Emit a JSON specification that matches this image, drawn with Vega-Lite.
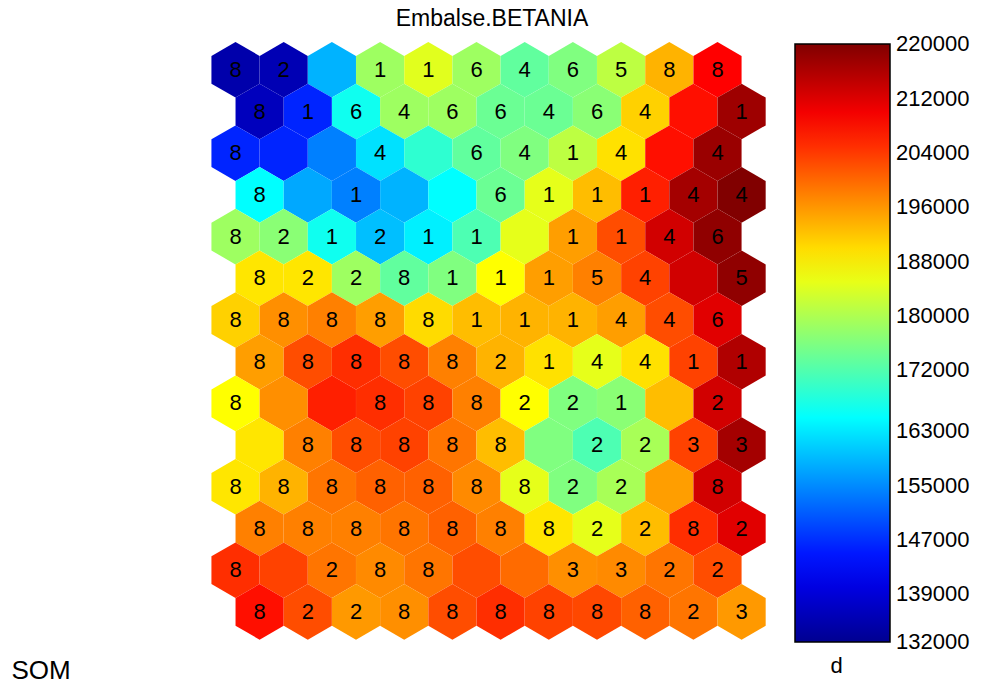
{
  "$schema": "https://vega.github.io/schema/vega-lite/v6.json",
  "width": 984,
  "height": 684,
  "autosize": {"type": "none"},
  "padding": 0,
  "background": "white",
  "config": {"view": {"stroke": null}, "font": "Liberation Sans"},
  "title": {"text": "Embalse.BETANIA", "fontSize": 23, "fontWeight": "normal", "font": "Liberation Sans", "color": "black", "anchor": "middle", "frame": "group", "offset": -26, "dy": 23, "baseline": "alphabetic"},
  "data": {"values": [
    {"x":0,"row":0,"d":134600,"lab":"8"},{"x":1,"row":0,"d":135500,"lab":"2"},{"x":2,"row":0,"d":158400,"lab":""},{"x":3,"row":0,"d":178600,"lab":"1"},{"x":4,"row":0,"d":184400,"lab":"1"},{"x":5,"row":0,"d":178600,"lab":"6"},{"x":6,"row":0,"d":173400,"lab":"4"},{"x":7,"row":0,"d":176000,"lab":"6"},{"x":8,"row":0,"d":181300,"lab":"5"},{"x":9,"row":0,"d":193600,"lab":"8"},{"x":10,"row":0,"d":209000,"lab":"8"},
    {"x":0.5,"row":1,"d":136400,"lab":"8"},{"x":1.5,"row":1,"d":146100,"lab":"1"},{"x":2.5,"row":1,"d":166300,"lab":"6"},{"x":3.5,"row":1,"d":178600,"lab":"4"},{"x":4.5,"row":1,"d":178600,"lab":"6"},{"x":5.5,"row":1,"d":174200,"lab":"6"},{"x":6.5,"row":1,"d":174200,"lab":"4"},{"x":7.5,"row":1,"d":176900,"lab":"6"},{"x":8.5,"row":1,"d":191000,"lab":"4"},{"x":9.5,"row":1,"d":207700,"lab":""},{"x":10.5,"row":1,"d":217400,"lab":"1"},
    {"x":0,"row":2,"d":146100,"lab":"8"},{"x":1,"row":2,"d":146100,"lab":""},{"x":2,"row":2,"d":154000,"lab":""},{"x":3,"row":2,"d":162400,"lab":"4"},{"x":4,"row":2,"d":169000,"lab":""},{"x":5,"row":2,"d":173400,"lab":"6"},{"x":6,"row":2,"d":176000,"lab":"4"},{"x":7,"row":2,"d":181300,"lab":"1"},{"x":8,"row":2,"d":189600,"lab":"4"},{"x":9,"row":2,"d":207700,"lab":""},{"x":10,"row":2,"d":217800,"lab":"4"},
    {"x":0.5,"row":3,"d":165000,"lab":"8"},{"x":1.5,"row":3,"d":157500,"lab":""},{"x":2.5,"row":3,"d":154000,"lab":"1"},{"x":3.5,"row":3,"d":158400,"lab":""},{"x":4.5,"row":3,"d":165000,"lab":""},{"x":5.5,"row":3,"d":174200,"lab":"6"},{"x":6.5,"row":3,"d":184800,"lab":"1"},{"x":7.5,"row":3,"d":192700,"lab":"1"},{"x":8.5,"row":3,"d":206300,"lab":"1"},{"x":9.5,"row":3,"d":216900,"lab":"4"},{"x":10.5,"row":3,"d":220000,"lab":"4"},
    {"x":0,"row":4,"d":178600,"lab":"8"},{"x":1,"row":4,"d":176900,"lab":"2"},{"x":2,"row":4,"d":166300,"lab":"1"},{"x":3,"row":4,"d":159500,"lab":"2"},{"x":4,"row":4,"d":163700,"lab":"1"},{"x":5,"row":4,"d":171600,"lab":"1"},{"x":6,"row":4,"d":184800,"lab":""},{"x":7,"row":4,"d":195400,"lab":"1"},{"x":8,"row":4,"d":202400,"lab":"1"},{"x":9,"row":4,"d":213000,"lab":"4"},{"x":10,"row":4,"d":218700,"lab":"6"},
    {"x":0.5,"row":5,"d":189200,"lab":"8"},{"x":1.5,"row":5,"d":189200,"lab":"2"},{"x":2.5,"row":5,"d":178600,"lab":"2"},{"x":3.5,"row":5,"d":173400,"lab":"8"},{"x":4.5,"row":5,"d":176000,"lab":"1"},{"x":5.5,"row":5,"d":187000,"lab":"1"},{"x":6.5,"row":5,"d":195400,"lab":"1"},{"x":7.5,"row":5,"d":198000,"lab":"5"},{"x":8.5,"row":5,"d":203300,"lab":"4"},{"x":9.5,"row":5,"d":213000,"lab":""},{"x":10.5,"row":5,"d":218700,"lab":"5"},
    {"x":0,"row":6,"d":191000,"lab":"8"},{"x":1,"row":6,"d":196700,"lab":"8"},{"x":2,"row":6,"d":198000,"lab":"8"},{"x":3,"row":6,"d":195400,"lab":"8"},{"x":4,"row":6,"d":190100,"lab":"8"},{"x":5,"row":6,"d":192700,"lab":"1"},{"x":6,"row":6,"d":193600,"lab":"1"},{"x":7,"row":6,"d":193600,"lab":"1"},{"x":8,"row":6,"d":195400,"lab":"4"},{"x":9,"row":6,"d":202400,"lab":"4"},{"x":10,"row":6,"d":211600,"lab":"6"},
    {"x":0.5,"row":7,"d":195400,"lab":"8"},{"x":1.5,"row":7,"d":202400,"lab":"8"},{"x":2.5,"row":7,"d":205000,"lab":"8"},{"x":3.5,"row":7,"d":202400,"lab":"8"},{"x":4.5,"row":7,"d":198000,"lab":"8"},{"x":5.5,"row":7,"d":193600,"lab":"2"},{"x":6.5,"row":7,"d":189600,"lab":"1"},{"x":7.5,"row":7,"d":184800,"lab":"4"},{"x":8.5,"row":7,"d":189600,"lab":"4"},{"x":9.5,"row":7,"d":203300,"lab":"1"},{"x":10.5,"row":7,"d":215900,"lab":"1"},
    {"x":0,"row":8,"d":187000,"lab":"8"},{"x":1,"row":8,"d":196700,"lab":""},{"x":2,"row":8,"d":206300,"lab":""},{"x":3,"row":8,"d":205000,"lab":"8"},{"x":4,"row":8,"d":203300,"lab":"8"},{"x":5,"row":8,"d":198000,"lab":"8"},{"x":6,"row":8,"d":187000,"lab":"2"},{"x":7,"row":8,"d":176000,"lab":"2"},{"x":8,"row":8,"d":176900,"lab":"1"},{"x":9,"row":8,"d":192700,"lab":""},{"x":10,"row":8,"d":213000,"lab":"2"},
    {"x":0.5,"row":9,"d":189200,"lab":""},{"x":1.5,"row":9,"d":198000,"lab":"8"},{"x":2.5,"row":9,"d":202400,"lab":"8"},{"x":3.5,"row":9,"d":203300,"lab":"8"},{"x":4.5,"row":9,"d":198900,"lab":"8"},{"x":5.5,"row":9,"d":192700,"lab":"8"},{"x":6.5,"row":9,"d":176000,"lab":""},{"x":7.5,"row":9,"d":171600,"lab":"2"},{"x":8.5,"row":9,"d":179500,"lab":"2"},{"x":9.5,"row":9,"d":203300,"lab":"3"},{"x":10.5,"row":9,"d":216900,"lab":"3"},
    {"x":0,"row":10,"d":189200,"lab":"8"},{"x":1,"row":10,"d":193600,"lab":"8"},{"x":2,"row":10,"d":198900,"lab":"8"},{"x":3,"row":10,"d":200600,"lab":"8"},{"x":4,"row":10,"d":200600,"lab":"8"},{"x":5,"row":10,"d":197100,"lab":"8"},{"x":6,"row":10,"d":184800,"lab":"8"},{"x":7,"row":10,"d":176000,"lab":"2"},{"x":8,"row":10,"d":179500,"lab":"2"},{"x":9,"row":10,"d":195400,"lab":""},{"x":10,"row":10,"d":213000,"lab":"8"},
    {"x":0.5,"row":11,"d":198000,"lab":"8"},{"x":1.5,"row":11,"d":198000,"lab":"8"},{"x":2.5,"row":11,"d":198000,"lab":"8"},{"x":3.5,"row":11,"d":198900,"lab":"8"},{"x":4.5,"row":11,"d":200600,"lab":"8"},{"x":5.5,"row":11,"d":198000,"lab":"8"},{"x":6.5,"row":11,"d":189200,"lab":"8"},{"x":7.5,"row":11,"d":184800,"lab":"2"},{"x":8.5,"row":11,"d":192700,"lab":"2"},{"x":9.5,"row":11,"d":205000,"lab":"8"},{"x":10.5,"row":11,"d":211600,"lab":"2"},
    {"x":0,"row":12,"d":205000,"lab":"8"},{"x":1,"row":12,"d":203300,"lab":""},{"x":2,"row":12,"d":198900,"lab":"2"},{"x":3,"row":12,"d":197100,"lab":"8"},{"x":4,"row":12,"d":198900,"lab":"8"},{"x":5,"row":12,"d":202400,"lab":""},{"x":6,"row":12,"d":199800,"lab":""},{"x":7,"row":12,"d":196700,"lab":"3"},{"x":8,"row":12,"d":197100,"lab":"3"},{"x":9,"row":12,"d":198900,"lab":"2"},{"x":10,"row":12,"d":202400,"lab":"2"},
    {"x":0.5,"row":13,"d":207700,"lab":"8"},{"x":1.5,"row":13,"d":202400,"lab":"2"},{"x":2.5,"row":13,"d":195800,"lab":"2"},{"x":3.5,"row":13,"d":196700,"lab":"8"},{"x":4.5,"row":13,"d":202400,"lab":"8"},{"x":5.5,"row":13,"d":205000,"lab":"8"},{"x":6.5,"row":13,"d":203300,"lab":"8"},{"x":7.5,"row":13,"d":202800,"lab":"8"},{"x":8.5,"row":13,"d":200600,"lab":"8"},{"x":9.5,"row":13,"d":198900,"lab":"2"},{"x":10.5,"row":13,"d":195800,"lab":"3"}
  ]},
  "encoding": {
    "x": {"field": "x", "type": "quantitative",
      "scale": {"domain": [-4.886, 15.529], "nice": false, "zero": false},
      "axis": {"title": "SOM", "domain": false, "ticks": false, "labels": false, "grid": false,
        "titleX": 11, "titleY": -6, "titleAlign": "left", "titleBaseline": "alphabetic",
        "titleFontSize": 26, "titleFontWeight": "normal", "titleColor": "black", "titleFont": "Liberation Sans"}},
    "y": {"field": "row", "type": "quantitative",
      "scale": {"domain": [-1.674, 14.729], "nice": false, "zero": false, "reverse": true},
      "axis": {"title": "d", "domain": false, "ticks": false, "labels": false, "grid": false,
        "titleX": 836, "titleY": 672, "titleAngle": 0, "titleAlign": "center", "titleBaseline": "alphabetic",
        "titleFontSize": 22, "titleFontWeight": "normal", "titleColor": "black", "titleFont": "Liberation Sans"}}
  },
  "layer": [
    {
      "mark": {"type": "point", "shape": "M0,-1L0.866,-0.5L0.866,0.5L0,1L-0.866,0.5L-0.866,-0.5Z", "filled": true, "size": 3091, "opacity": 1, "strokeWidth": 0},
      "encoding": {
        "color": {"field": "d", "type": "quantitative",
          "scale": {"domain": [131950, 143000, 165000, 187000, 209000, 220050], "range": ["#000090", "#0000ff", "#00ffff", "#ffff00", "#ff0000", "#800000"], "interpolate": "rgb"},
          "legend": {"orient": "none", "legendX": 795, "legendY": 44, "direction": "vertical",
            "gradientLength": 598, "gradientThickness": 95, "title": null,
            "values": [132000, 139000, 147000, 155000, 163000, 172000, 180000, 188000, 196000, 204000, 212000, 220000],
            "format": "d", "labelFontSize": 22, "labelFont": "Liberation Sans", "labelColor": "black",
            "labelOffset": 6, "labelOverlap": false,
            "gradientStrokeColor": "black", "gradientStrokeWidth": 1.5, "padding": 0}}
      }
    },
    {
      "transform": [{"filter": "datum.lab != ''"}],
      "mark": {"type": "text", "fontSize": 22, "font": "Liberation Sans", "color": "black", "baseline": "middle", "align": "center"},
      "encoding": {"text": {"field": "lab"}}
    }
  ]
}
